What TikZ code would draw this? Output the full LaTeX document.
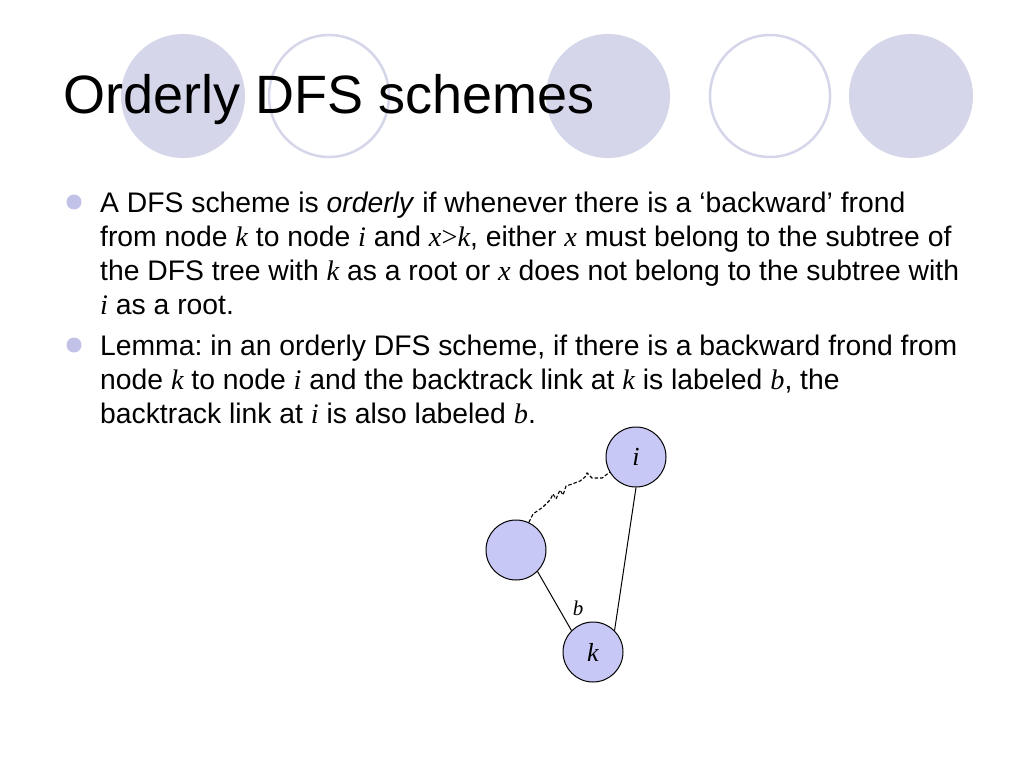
\documentclass[tikz,border=0pt]{standalone}
\usepackage{fontspec}
\setmainfont{Liberation Sans}
\newfontfamily\tms{Liberation Serif}
\newcommand{\vr}[1]{{\tms\itshape #1}}
\definecolor{deco}{HTML}{D6D6EB}
\definecolor{bul}{HTML}{C2C2E8}
\definecolor{nodefill}{HTML}{C8C8F6}
\frenchspacing
\begin{document}
\begin{tikzpicture}[x=1pt,y=-1pt,
  decofill/.style={fill=deco,draw=none},
  decoring/.style={draw=deco,line width=2.5pt,fill=white},
  bullet/.style={circle,fill=bul,minimum size=15pt,inner sep=0pt},
  line/.style={anchor=base west,inner sep=0pt,font=\fontsize{28.3}{34}\selectfont},
  gnode/.style={circle,draw=black,fill=nodefill,minimum size=60pt,inner sep=0pt,line width=1pt,font=\fontsize{26}{30}\selectfont\tms\itshape},
  edge/.style={draw=black,line width=1pt},
  frond/.style={draw=black,line width=1.1pt,dash pattern=on 3.5pt off 2pt}]
\useasboundingbox (0,0) rectangle (1024,768);
\fill[white] (0,0) rectangle (1024,768);
% decorative circles
\path[decofill] (183,96) ellipse (62 and 62);
\path[decoring] (329,96) ellipse (60 and 61);
\path[decofill] (608,96) ellipse (62 and 62);
\path[decoring] (770,96) ellipse (60 and 61);
\path[decofill] (911,96) ellipse (62 and 62);
% title
\node[anchor=base west,inner sep=0pt,font=\fontsize{54}{60}\selectfont] (title) at (63,113) {Orderly DFS schemes};
% bullets
\node[bullet] (b1) at (74,202) {};
\node[bullet] (b2) at (74,345) {};
% text
\node[line] (l1) at (100,212) {A DFS scheme is \textit{orderly} if whenever there is a ‘backward’ frond};
\node[line] (l2) at (100,246) {from node \vr{k} to node \vr{i} and \vr{x}{\tms>}\vr{k}, either \vr{x} must belong to the subtree of};
\node[line] (l3) at (100,280) {the DFS tree with \vr{k} as a root or \vr{x} does not belong to the subtree with};
\node[line] (l4) at (100,314) {\vr{i} as a root.};
\node[line] (l5) at (100,355) {Lemma: in an orderly DFS scheme, if there is a backward frond from};
\node[line] (l6) at (100,389) {node \vr{k} to node \vr{i} and the backtrack link at \vr{k} is labeled \vr{b}, the};
\node[line] (l7) at (100,423) {backtrack link at \vr{i} is also labeled \vr{b}.};
% graph
\node[gnode] (i) at (636,457) {i};
\node[gnode] (e) at (516,550) {};
\node[gnode] (k) at (593,652) {k};
\draw[edge] (e.south east) -- (k.north west);
\draw[edge] (i.south) -- (k.north east);
\node[font=\fontsize{21}{24}\selectfont\tms\itshape,inner sep=0pt] (blab) at (578,608) {b};
\draw[frond] (e.65) -- (533,514) -- (543,507) -- (550,500) -- (553,494) -- (556,499) -- (560,490) -- (563,495) -- (566,486) -- (572,484) -- (580,481) -- (585,477) -- (587,473) -- (592,478) -- (602,478) -- (i.210);
\end{tikzpicture}
\end{document}
